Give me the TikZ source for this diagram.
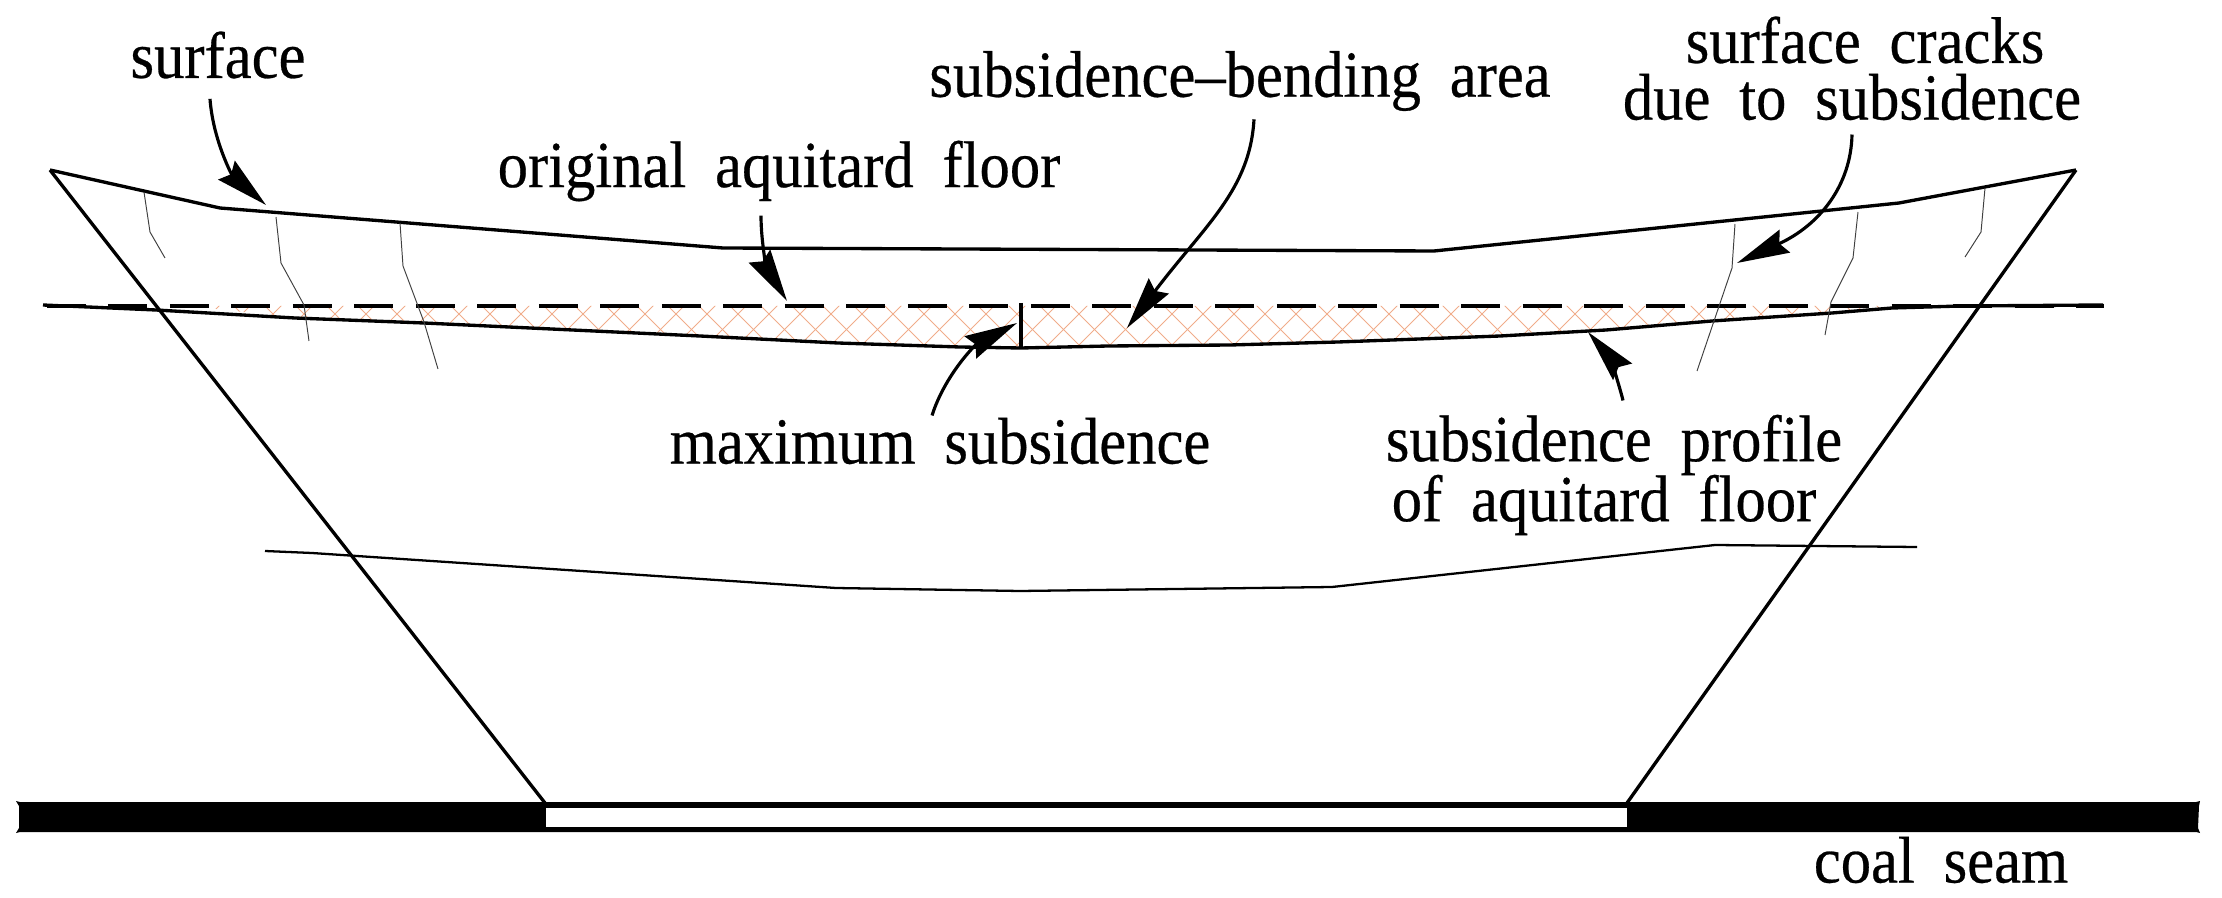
\documentclass[tikz,border=0pt]{standalone}
\usepackage{fontspec}
\setmainfont[FakeStretch=0.92,FakeBold=0.4,WordSpace=1.9]{Liberation Serif}
\usetikzlibrary{arrows.meta,positioning}
\definecolor{hatchorange}{RGB}{240,172,138}
\tikzset{
  lbl/.style={inner sep=0pt, font=\fontsize{37.5}{37.5}\selectfont},
  ground/.style={line width=1.9pt, line join=miter},
  crack/.style={line width=0.55pt, black!75},
  hatchline/.style={line width=0.55pt, hatchorange},
  pointer/.style={->, line width=1.8pt},
}

\begin{document}
\begin{tikzpicture}[x=0.02cm, y=-0.02cm, >={Stealth[length=1.05cm, width=0.5cm, inset=0.12cm]}]
  \useasboundingbox (0,0) rectangle (2222,898);

  % labels
  \node[lbl] (lsurface) at (218,55) {surface};
  \node[lbl] (lbending) at (1240,81) {subsidence–bending area};
  \node[lbl] (lcracks) at (1865,40) {surface cracks};
  \node[lbl] (lcracksb) at (1852,97) {due to subsidence};
  \node[lbl] (lfloor) at (779,171) {original aquitard floor};
  \node[lbl] (lmax) at (940,441) {maximum subsidence};
  \node[lbl] (lprofile) at (1614,445) {subsidence profile};
  \node[lbl] (lprofileb) at (1604,505) {of aquitard floor};
  \node[lbl] (lseam) at (1941,860) {coal seam};

  % hatching under the original floor
  \begin{scope}
    \clip (190,306) -- (1950,306) -- (1892,308) -- (1832,313) -- (1712,321) -- (1606,330)
      -- (1500,336) -- (1338,342) -- (1230,345) -- (1108,346) -- (1021,348) -- (960,347)
      -- (838,343) -- (700,336) -- (424,323) -- (295,318) -- cycle;
    \foreach \k in {-30,...,75} {
      \draw[hatchline] ({734+31*\k+290},290) -- ({734+31*\k+360},360);
      \draw[hatchline] ({1362+31*\k-290},290) -- ({1362+31*\k-360},360);
    }
  \end{scope}

  % strata
  \draw[ground] (50,170) -- (220,208) -- (723,248) -- (1434,251) -- (1899,203) -- (2076,170);
  \draw[ground] (50,170) -- (545,803);
  \draw[ground] (2076,170) -- (1627,803);
  \draw[ground] (43,305) -- (156,310) -- (295,318) -- (424,323) -- (700,336) -- (838,343)
    -- (960,347) -- (1021,348) -- (1108,346) -- (1230,345) -- (1338,342) -- (1500,336)
    -- (1606,330) -- (1712,321) -- (1832,313) -- (1892,308) -- (1961,306) -- (2103,305);
  \draw[ground, line width=2.2pt, dash pattern=on 0.78cm off 0.45cm] (47,306) -- (2104,306);
  \draw[ground] (1021,303) -- (1021,348);
  \draw[line width=1.3pt] (265,551) -- (312,553) -- (836,588) -- (1020,591) -- (1332,587)
    -- (1715,545) -- (1917,547);

  % cracks
  \draw[crack] (144,192) -- (150,232) -- (165,258);
  \draw[crack] (276,217) -- (281,263) -- (304,305) -- (309,341);
  \draw[crack] (400,223) -- (403,266) -- (424,322) -- (438,369);
  \draw[crack] (1735,224) -- (1732,268) -- (1697,371);
  \draw[crack] (1858,212) -- (1853,258) -- (1831,302) -- (1825,335);
  \draw[crack] (1985,188) -- (1981,232) -- (1965,257);

  % coal seam
  \fill (16,801) -- (20,802) -- (2196,802) -- (2200,801) -- (2199,806) -- (2198,828)
    -- (2200,833) -- (2196,832) -- (20,832) -- (16,833) -- (19,828) -- (19,806) -- cycle;
  \fill[white] (546,808) rectangle (1627,827);

  % pointers
  \draw[pointer] ([shift={(-8,20)}]lsurface.south) .. controls (213,140) and (232,175) .. (266,205);
  \draw[pointer] ([shift={(-18,14)}]lfloor.south) .. controls (761,245) and (768,270) .. (787,301);
  \draw[pointer] ([shift={(14,8)}]lbending.south) .. controls (1250,190) and (1205,225) .. (1127,328);
  \draw[pointer] ([shift={(0,14)}]lcracksb.south) .. controls (1851,185) and (1820,225) .. (1737,263);
  \draw[pointer] ([shift={(-8,-2)}]lmax.north) .. controls (945,375) and (975,345) .. (1017,323);
  \draw[pointer] ([shift={(9,-14)}]lprofile.north) .. controls (1618,380) and (1608,355) .. (1588,332);
\end{tikzpicture}
\end{document}
